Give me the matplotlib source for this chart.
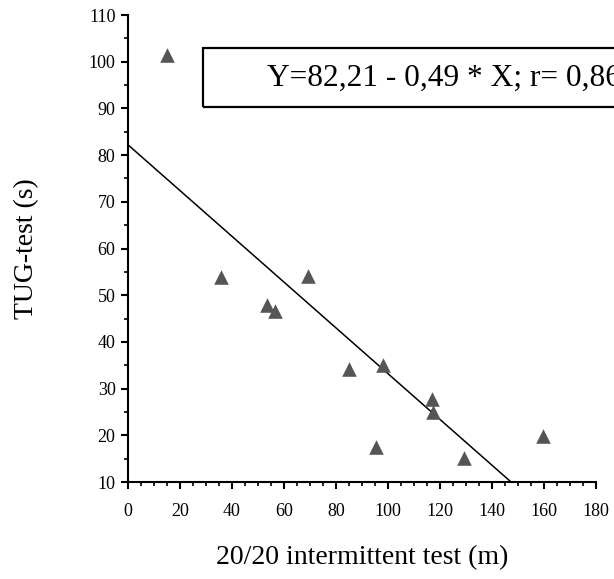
import matplotlib
matplotlib.use('Agg')
import matplotlib.pyplot as plt
import numpy as np
from matplotlib.patches import Rectangle
from matplotlib.ticker import MultipleLocator

plt.rcParams['font.family'] = ['Liberation Serif', 'DejaVu Serif']

# data
walk_m = [14.9, 35.8, 53.3, 56.5, 69.1, 85.1, 98.2, 116.8, 117.4, 95.4, 129.2, 159.7]
tug_s = [101.4, 54.0, 47.9, 46.6, 54.1, 34.3, 35.1, 27.8, 25.1, 17.6, 15.2, 19.9]
intercept = 82.21
slope = -0.49
fit_text = "Y=82,21 - 0,49 * X; r= 0,86"

fig = plt.figure(figsize=(6.14, 5.79), dpi=100)
ax = fig.add_axes([0.2085, 0.1675, 0.762, 0.8065])

ax.scatter(walk_m, tug_s, marker='^', s=110, color='#555555', zorder=3,
           linewidths=0)

# regression line from intercept down to y=10
x_end = (10 - intercept) / slope
xs = np.array([0, x_end])
ax.plot(xs, intercept + slope * xs, color='black', lw=1.1, zorder=2)

ax.set_xlim(0, 180)
ax.set_ylim(10, 110)
ax.xaxis.set_major_locator(MultipleLocator(20))
ax.xaxis.set_minor_locator(MultipleLocator(5))
ax.yaxis.set_major_locator(MultipleLocator(10))
ax.yaxis.set_minor_locator(MultipleLocator(5))

for side in ['top', 'right']:
    ax.spines[side].set_visible(False)
for side in ['left', 'bottom']:
    ax.spines[side].set_linewidth(1.5)

ax.tick_params(which='major', direction='out', length=5, width=1.5,
               labelsize=13)
ax.tick_params(axis='x', which='major', pad=10)
ax.tick_params(axis='y', which='major', pad=4)
ax.tick_params(which='minor', direction='out', length=3, width=1.2)

ax.set_xlabel('20/20 intermittent test (m)', fontsize=20, labelpad=18)
ax.set_ylabel('TUG-test (s)', fontsize=20, labelpad=36)

# equation box, running off the right edge like the original
ax.add_patch(Rectangle((28.8, 90.3), 250, 12.6, fill=False, lw=1.6,
                       edgecolor='black', clip_on=False, zorder=4))
ax.text(53.5, 96.4, fit_text, fontsize=22.6, va='center', ha='left',
        clip_on=False, zorder=5)

fig.savefig('out.png', dpi=100)
